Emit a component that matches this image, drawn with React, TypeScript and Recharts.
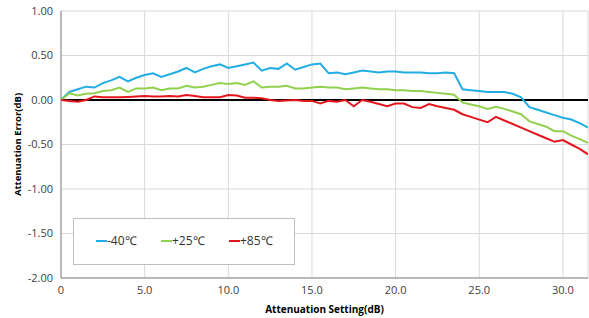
import React from "react";
import { LineChart, Line, XAxis, YAxis, CartesianGrid, ReferenceLine, Label } from "recharts";

const settings: number[] = [
  0, 0.5, 1, 1.5, 2, 2.5, 3, 3.5, 4, 4.5, 5, 5.5, 6, 6.5, 7, 7.5, 8, 8.5, 9, 9.5,
  10, 10.5, 11, 11.5, 12, 12.5, 13, 13.5, 14, 14.5, 15, 15.5, 16, 16.5, 17, 17.5, 18, 18.5, 19, 19.5,
  20, 20.5, 21, 21.5, 22, 22.5, 23, 23.5, 24, 24.5, 25, 25.5, 26, 26.5, 27, 27.5, 28, 28.5, 29, 29.5,
  30, 30.5, 31, 31.5,
];

const minus40: number[] = [
  0, 0.09, 0.12, 0.15, 0.14, 0.19, 0.22, 0.26, 0.21, 0.25, 0.28, 0.3, 0.26, 0.29, 0.32, 0.36, 0.31, 0.35, 0.38, 0.4,
  0.36, 0.38, 0.4, 0.42, 0.33, 0.36, 0.35, 0.41, 0.34, 0.37, 0.4, 0.41, 0.3, 0.31, 0.29, 0.31, 0.33, 0.32, 0.31, 0.32,
  0.32, 0.31, 0.31, 0.31, 0.3, 0.3, 0.31, 0.3, 0.12, 0.11, 0.1, 0.09, 0.09, 0.09, 0.07, 0.03, -0.08, -0.11, -0.14, -0.17,
  -0.2, -0.22, -0.26, -0.31,
];

const plus25: number[] = [
  0, 0.075, 0.05, 0.07, 0.075, 0.1, 0.11, 0.14, 0.09, 0.13, 0.13, 0.14, 0.11, 0.13, 0.13, 0.16, 0.14, 0.15, 0.17, 0.19,
  0.18, 0.19, 0.17, 0.21, 0.14, 0.15, 0.15, 0.16, 0.13, 0.13, 0.14, 0.15, 0.14, 0.14, 0.12, 0.13, 0.14, 0.13, 0.12, 0.12,
  0.11, 0.11, 0.1, 0.1, 0.09, 0.08, 0.07, 0.06, -0.03, -0.05, -0.07, -0.1, -0.075, -0.1, -0.13, -0.16, -0.24, -0.27, -0.3, -0.35,
  -0.35, -0.4, -0.44, -0.48,
];

const plus85: number[] = [
  0, -0.01, -0.02, 0.0, 0.04, 0.03, 0.03, 0.03, 0.035, 0.04, 0.045, 0.04, 0.04, 0.045, 0.04, 0.055, 0.045, 0.03, 0.03, 0.03,
  0.055, 0.05, 0.025, 0.025, 0.02, 0.0, -0.01, -0.005, 0.0, -0.01, -0.01, -0.04, -0.01, -0.02, 0.0, -0.07, 0.0, -0.02, -0.045, -0.07,
  -0.04, -0.04, -0.08, -0.09, -0.045, -0.07, -0.09, -0.11, -0.16, -0.19, -0.22, -0.25, -0.19, -0.23, -0.27, -0.31, -0.35, -0.39, -0.43, -0.47,
  -0.45, -0.5, -0.55, -0.61,
];

const xTicks: number[] = [0, 5, 10, 15, 20, 25, 30];
const yTicks: number[] = [-2, -1.5, -1, -0.5, 0, 0.5, 1];

const seriesNames = ["-40℃", "+25℃", "+85℃"];
const colors = ["#22AEE4", "#92D050", "#E3161E"];

const data = settings.map((s, i) => ({
  x: s,
  a: minus40[i],
  b: plus25[i],
  c: plus85[i],
}));

const FONT = "'Open Sans', sans-serif";

const LegendBox = () => (
  <div
    style={{
      position: "absolute",
      left: 73,
      top: 218,
      width: 222,
      height: 47,
      border: "1px solid #BFBFBF",
      background: "#fff",
      boxSizing: "border-box",
      fontFamily: FONT,
      fontSize: 12,
      color: "#333",
    }}
  >
    {seriesNames.map((n, i) => (
      <div
        key={n}
        style={{
          position: "absolute",
          left: [22, 87, 155][i],
          top: 14,
          display: "flex",
          alignItems: "center",
          whiteSpace: "nowrap",
          lineHeight: "16px",
        }}
      >
        <span style={{ display: "inline-block", width: 11, height: 2.5, background: colors[i] }} />
        <span>{n}</span>
      </div>
    ))}
  </div>
);

export default function App() {
  return (
    <div style={{ position: "absolute", left: 0, top: 0, width: 589, height: 318, background: "#fff" }}>
      <LineChart width={589} height={318} data={data} margin={{ top: 11, right: 1, bottom: 0, left: 0 }}>
        <CartesianGrid stroke="#D9D9D9" strokeWidth={1} vertical={true} horizontal={true} />
        <XAxis
          dataKey="x"
          type="number"
          domain={[0, 31.5]}
          ticks={xTicks}
          tickFormatter={(v: number) => (v === 0 ? "0" : v.toFixed(1))}
          stroke="#868686"
          tickLine={false}
          tick={{ fill: "#404040", fontSize: 11, fontFamily: FONT }}
          height={40}
          allowDataOverflow
        >
          <Label
            value="Attenuation Setting(dB)"
            position="insideBottom"
            offset={5}
            style={{ fill: "#000", fontSize: 10, fontWeight: 700, fontFamily: FONT }}
          />
        </XAxis>
        <YAxis
          type="number"
          domain={[-2, 1]}
          ticks={yTicks}
          tickFormatter={(v: number) => v.toFixed(2)}
          stroke="#868686"
          tickLine={false}
          tick={{ fill: "#404040", fontSize: 11, fontFamily: FONT }}
          width={61}
        >
          <Label
            value="Attenuation Error(dB)"
            angle={-90}
            position="insideLeft"
            offset={18}
            style={{ fill: "#000", fontSize: 9.5, fontWeight: 700, fontFamily: FONT, textAnchor: "middle" }}
          />
        </YAxis>
        <ReferenceLine y={0} stroke="#000" strokeWidth={2} />
        <Line type="linear" dataKey="a" name={seriesNames[0]} stroke={colors[0]} strokeWidth={2} dot={false} isAnimationActive={false} />
        <Line type="linear" dataKey="b" name={seriesNames[1]} stroke={colors[1]} strokeWidth={2} dot={false} isAnimationActive={false} />
        <Line type="linear" dataKey="c" name={seriesNames[2]} stroke={colors[2]} strokeWidth={2} dot={false} isAnimationActive={false} />
      </LineChart>
      <LegendBox />
    </div>
  );
}
